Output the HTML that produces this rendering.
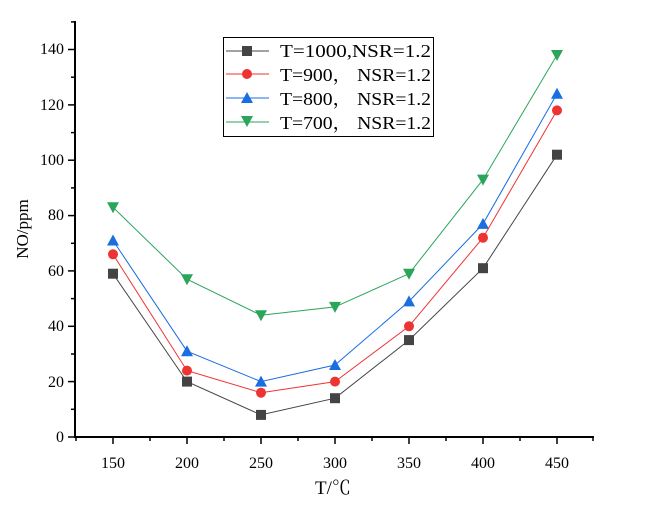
<!DOCTYPE html><html><head><style>body{margin:0;background:#fff}svg{display:block;font-family:"Liberation Serif","Noto Serif CJK SC",serif}</style></head><body>
<svg width="650" height="505" xmlns="http://www.w3.org/2000/svg">
<g stroke="#000" stroke-width="2" fill="none">
<line x1="75" y1="21" x2="75" y2="438"/>
<line x1="74" y1="437" x2="594" y2="437"/>
</g>
<g stroke="#000" stroke-width="1.5">
<line x1="68" y1="437" x2="75" y2="437"/><line x1="68" y1="381.6" x2="75" y2="381.6"/><line x1="68" y1="326.3" x2="75" y2="326.3"/><line x1="68" y1="270.9" x2="75" y2="270.9"/><line x1="68" y1="215.6" x2="75" y2="215.6"/><line x1="68" y1="160.2" x2="75" y2="160.2"/><line x1="68" y1="104.9" x2="75" y2="104.9"/><line x1="68" y1="49.5" x2="75" y2="49.5"/>
<line x1="71" y1="409.3" x2="75" y2="409.3"/><line x1="71" y1="354" x2="75" y2="354"/><line x1="71" y1="298.6" x2="75" y2="298.6"/><line x1="71" y1="243.3" x2="75" y2="243.3"/><line x1="71" y1="187.9" x2="75" y2="187.9"/><line x1="71" y1="132.6" x2="75" y2="132.6"/><line x1="71" y1="77.2" x2="75" y2="77.2"/><line x1="71" y1="21.9" x2="75" y2="21.9"/>
<line x1="113" y1="437" x2="113" y2="444"/><line x1="187" y1="437" x2="187" y2="444"/><line x1="261" y1="437" x2="261" y2="444"/><line x1="335" y1="437" x2="335" y2="444"/><line x1="409" y1="437" x2="409" y2="444"/><line x1="483" y1="437" x2="483" y2="444"/><line x1="557" y1="437" x2="557" y2="444"/>
<line x1="76" y1="437" x2="76" y2="441"/><line x1="150" y1="437" x2="150" y2="441"/><line x1="224" y1="437" x2="224" y2="441"/><line x1="298" y1="437" x2="298" y2="441"/><line x1="372" y1="437" x2="372" y2="441"/><line x1="446" y1="437" x2="446" y2="441"/><line x1="520" y1="437" x2="520" y2="441"/><line x1="593" y1="437" x2="593" y2="441"/>
</g>
<g font-size="16" text-anchor="end">
<text x="64" y="442">0</text><text x="64" y="387">20</text><text x="64" y="331">40</text><text x="64" y="276">60</text><text x="64" y="220">80</text><text x="64" y="165">100</text><text x="64" y="110">120</text><text x="64" y="54">140</text>
</g>
<g font-size="16" text-anchor="middle">
<text x="113" y="468">150</text><text x="187" y="468">200</text><text x="261" y="468">250</text><text x="335" y="468">300</text><text x="409" y="468">350</text><text x="483" y="468">400</text><text x="557" y="468">450</text>
<text x="333" y="494" font-size="19">T/℃</text>
<text transform="translate(28 229) rotate(-90)" font-size="17">NO/ppm</text>
</g>
<polyline fill="none" stroke="#444" stroke-width="1" points="113,273.7 187,381.6 261,414.9 335,398.2 409,340.1 483,268.2 557,154.7"/>
<polyline fill="none" stroke="#ee3333" stroke-width="1" points="113,254.3 187,370.6 261,392.7 335,381.6 409,326.3 483,237.7 557,110.4"/>
<polyline fill="none" stroke="#1a6ee0" stroke-width="1" points="113,240.5 187,351.2 261,381.6 335,365.0 409,301.4 483,223.9 557,93.8"/>
<polyline fill="none" stroke="#2aa55a" stroke-width="1" points="113,207.3 187,279.2 261,315.2 335,306.9 409,273.7 483,179.6 557,55.0"/>
<g fill="#444">
<rect x="108" y="268.7" width="10" height="10"/><rect x="182" y="376.6" width="10" height="10"/><rect x="256" y="409.9" width="10" height="10"/><rect x="330" y="393.2" width="10" height="10"/><rect x="404" y="335.1" width="10" height="10"/><rect x="478" y="263.2" width="10" height="10"/><rect x="552" y="149.7" width="10" height="10"/>
</g>
<g fill="#ee3333">
<circle cx="113" cy="254.3" r="5"/><circle cx="187" cy="370.6" r="5"/><circle cx="261" cy="392.7" r="5"/><circle cx="335" cy="381.6" r="5"/><circle cx="409" cy="326.3" r="5"/><circle cx="483" cy="237.7" r="5"/><circle cx="557" cy="110.4" r="5"/>
</g>
<g fill="#1a6ee0">
<polygon points="113,234.5 107,245.5 119,245.5"/><polygon points="187,345.2 181,356.2 193,356.2"/><polygon points="261,375.6 255,386.6 267,386.6"/><polygon points="335,359 329,370 341,370"/><polygon points="409,295.4 403,306.4 415,306.4"/><polygon points="483,217.9 477,228.9 489,228.9"/><polygon points="557,87.8 551,98.8 563,98.8"/>
</g>
<g fill="#2aa55a">
<polygon points="113,213.3 107,202.3 119,202.3"/><polygon points="187,285.2 181,274.2 193,274.2"/><polygon points="261,321.2 255,310.2 267,310.2"/><polygon points="335,312.9 329,301.9 341,301.9"/><polygon points="409,279.7 403,268.7 415,268.7"/><polygon points="483,185.6 477,174.6 489,174.6"/><polygon points="557,61 551,50 563,50"/>
</g>
<rect x="223.5" y="37.5" width="210" height="99" fill="none" stroke="#000" stroke-width="1"/>
<line x1="226" y1="51" x2="269" y2="51" stroke="#444"/><rect x="242" y="46" width="10" height="10" fill="#444"/>
<line x1="226" y1="74" x2="269" y2="74" stroke="#ee3333"/><circle cx="247" cy="74" r="5" fill="#ee3333"/>
<line x1="226" y1="98" x2="269" y2="98" stroke="#1a6ee0"/><polygon points="247,92 241,103 253,103" fill="#1a6ee0"/>
<line x1="226" y1="122" x2="269" y2="122" stroke="#2aa55a"/><polygon points="247,127 241,116 253,116" fill="#2aa55a"/>
<g font-size="18">
<text x="280" y="57" textLength="151" lengthAdjust="spacingAndGlyphs">T=1000,NSR=1.2</text>
<text x="280" y="81" textLength="151" lengthAdjust="spacingAndGlyphs">T=900， NSR=1.2</text>
<text x="280" y="105" textLength="151" lengthAdjust="spacingAndGlyphs">T=800， NSR=1.2</text>
<text x="280" y="129" textLength="151" lengthAdjust="spacingAndGlyphs">T=700， NSR=1.2</text>
</g>
</svg></body></html>
